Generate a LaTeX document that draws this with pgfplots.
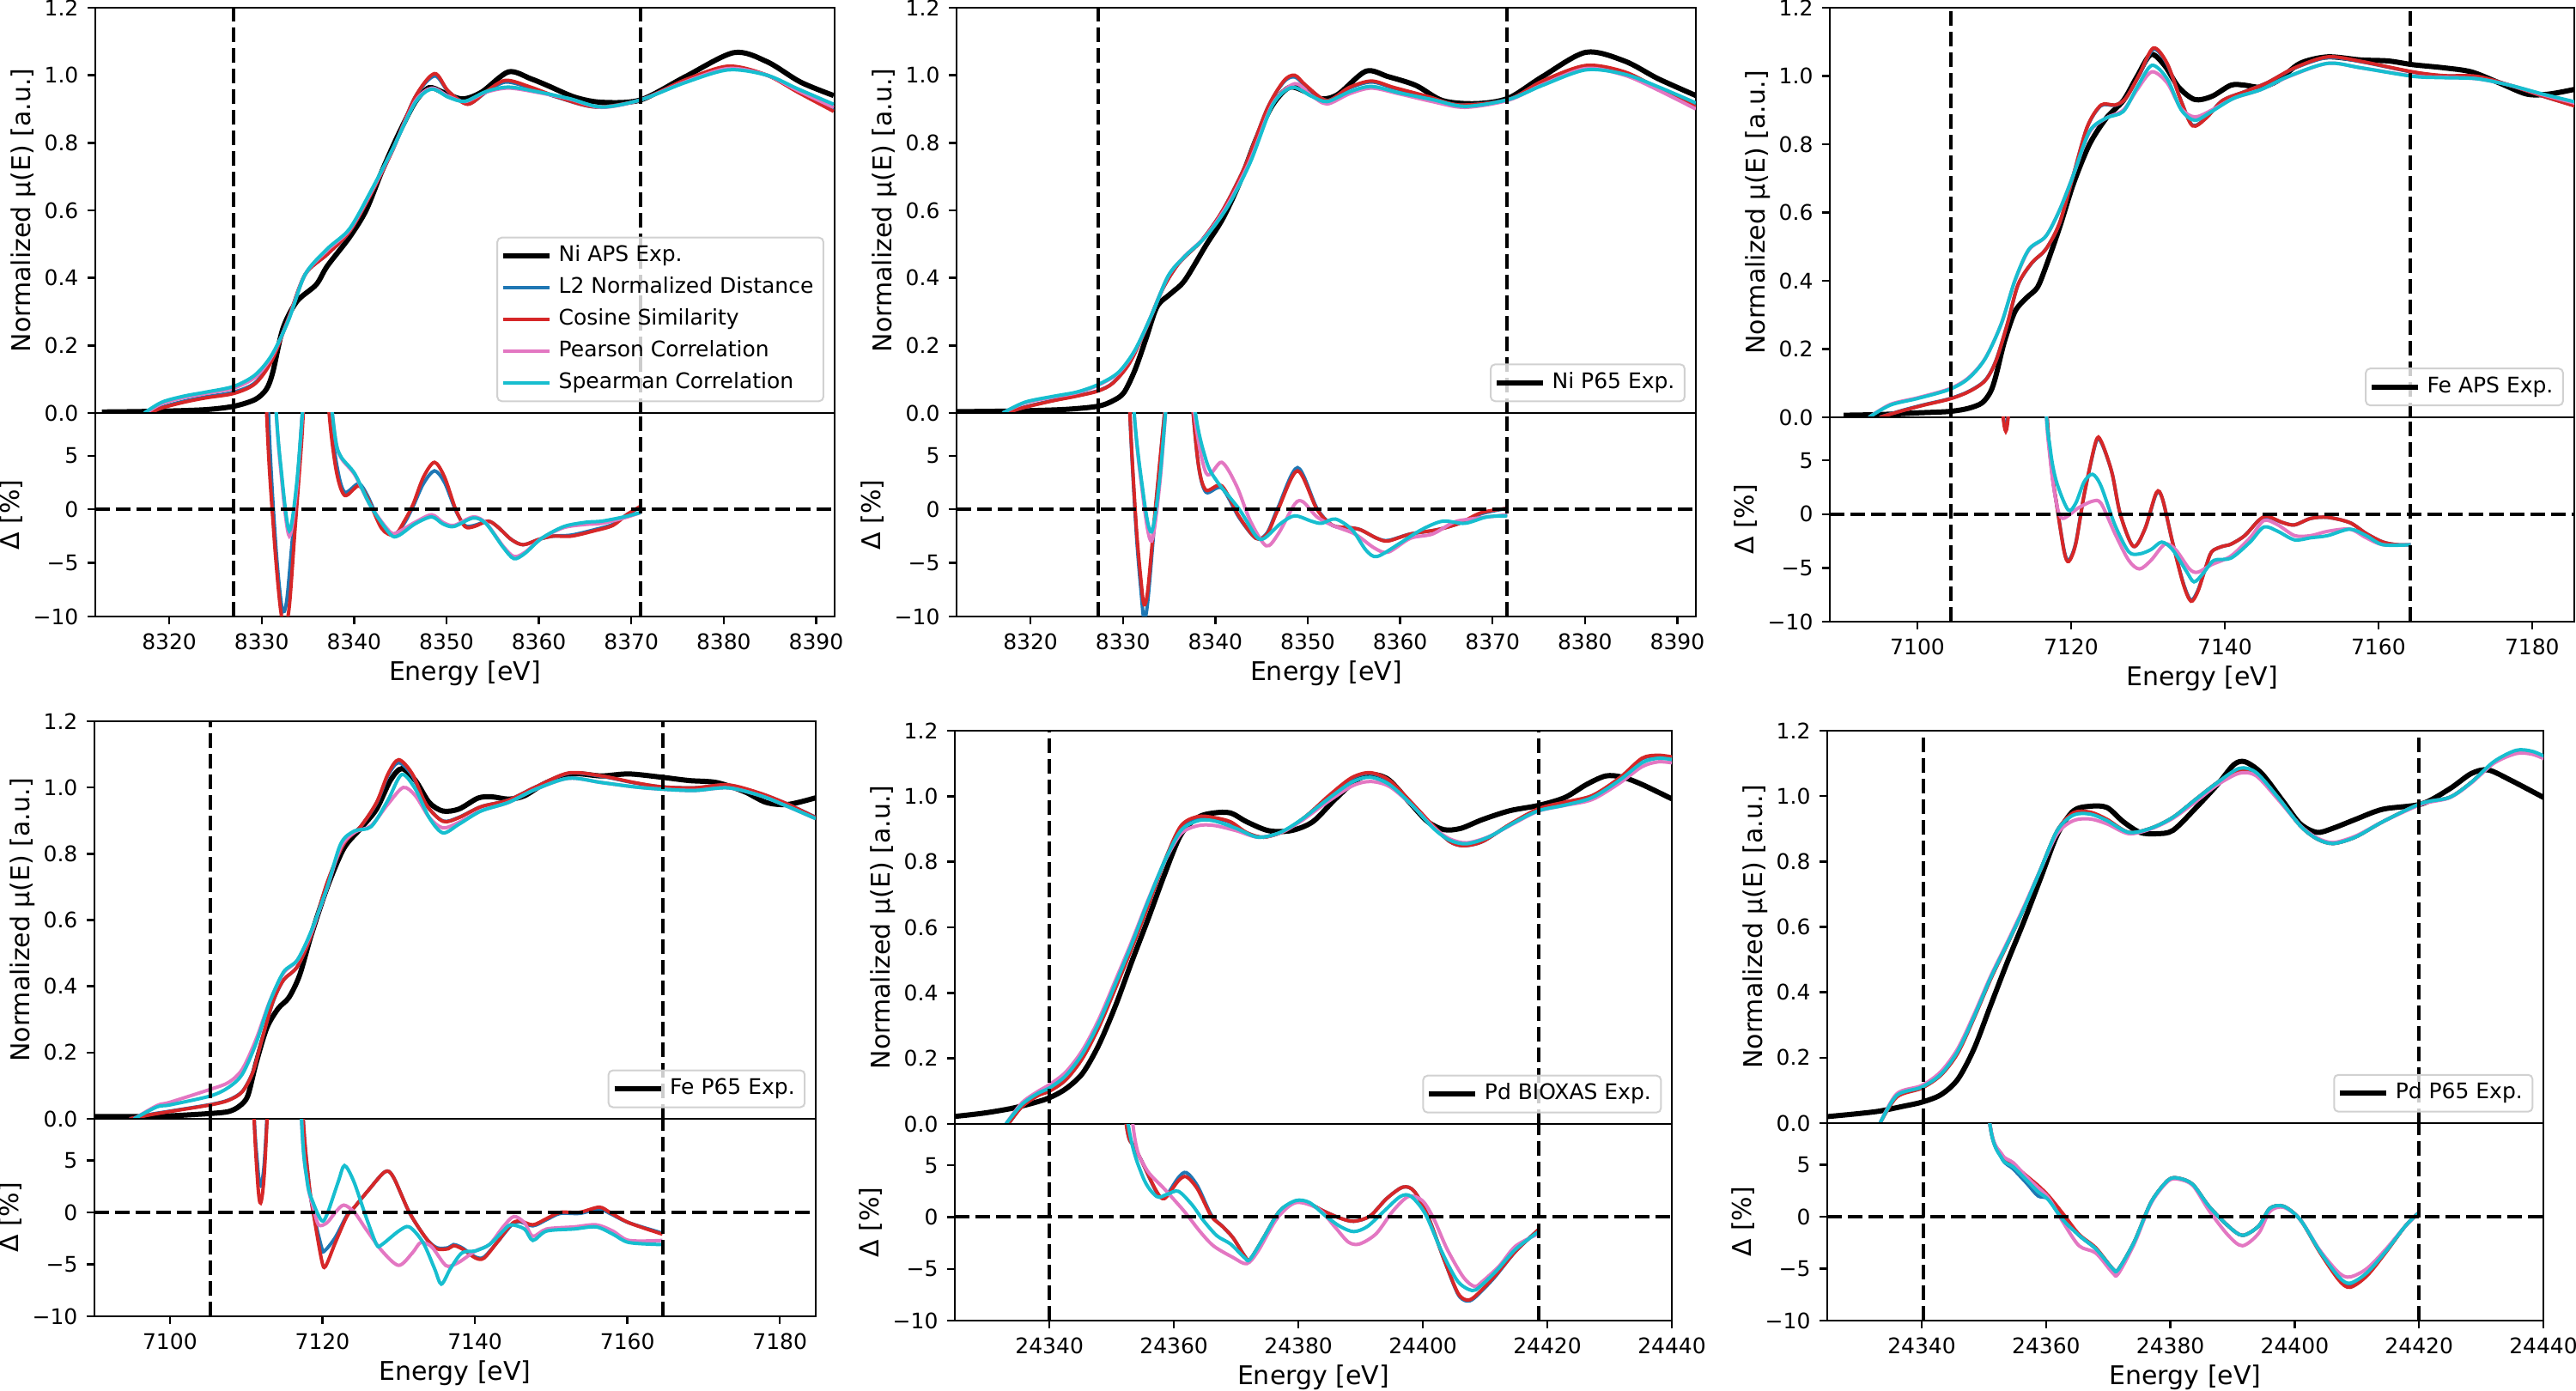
\documentclass[border=0pt]{standalone}
\usepackage{fontspec}
\setmainfont{DejaVu Sans}
\usepackage{pgfplots}
\pgfplotsset{compat=1.18}
\newlength\px
\setlength\px{0.333333pt}
\definecolor{tblue}{HTML}{1F77B4}
\definecolor{tred}{HTML}{D62728}
\definecolor{tpink}{HTML}{E377C2}
\definecolor{tcyan}{HTML}{17BECF}
\newcommand\tickfont{\fontsize{8.33pt}{10pt}\selectfont}
\newcommand\labfont{\fontsize{10pt}{12pt}\selectfont}
\pgfplotsset{legend image code/.code={\draw[#1] (0pt,0pt) -- (54\px,0pt);}}
\pgfplotsset{
  panel/.style={scale only axis, anchor=north west, axis line style={line width=2.4\px},
    tick style={line width=2.4\px, black}, major tick length=9\px, tick align=outside,
    xtick pos=left, ytick pos=left, ticklabel style={font=\tickfont},
    scaled x ticks=false, scaled y ticks=false,
    label style={font=\labfont}},
  mainp/.style={panel, ymin=0, ymax=1.2, ytick={0,0.2,0.4,0.6,0.8,1.0,1.2},
    yticklabels={0.0,0.2,0.4,0.6,0.8,1.0,1.2}, xtick=\empty,
    ylabel={Normalized μ(E) [a.u.]},
    every axis y label/.style={at={(axis description cs:0,0.5)}, xshift=-84\px, rotate=90, anchor=center, font=\labfont}},
  resp/.style={panel, ymin=-10, ymax=9, ytick={-10,-5,0,5}, yticklabels={−10,−5,0,5},
    ylabel={Δ [\%]}, xlabel={Energy [eV]},
    every axis y label/.style={at={(axis description cs:0,0.5)}, xshift=-98\px, rotate=90, anchor=center, font=\labfont},
    every axis x label/.style={at={(axis description cs:0.5,0)}, yshift=-66\px, anchor=center, font=\labfont}},
  expl/.style={black, line width=6\px, smooth},
  l2/.style={tblue, line width=4\px, smooth},
  cosl/.style={tred, line width=4\px, smooth},
  pear/.style={tpink, line width=4\px, smooth},
  spear/.style={tcyan, line width=4\px, smooth},
  vdash/.style={black, line width=4\px, dash pattern=on 17\px off 7\px, forget plot},
  legs/.style={legend style={at={(0.986,0.027)}, anchor=south east, draw=black!18, line width=2\px,
    rounded corners=5\px, fill=white, fill opacity=0.8, text opacity=1, font=\tickfont,
    inner xsep=4\px, inner ysep=3\px, row sep=0pt,
    nodes={inner ysep=2pt, inner xsep=2.5pt, text height=6.4pt, text depth=1.9pt}},
    legend cell align=left}
}
\begin{document}
\begin{tikzpicture}
\useasboundingbox (0,0) rectangle (3000\px,-1620\px);
%%%%%%%%%%%%%%%%%%%% PANEL 1 : Ni APS
\begin{axis}[mainp, legs, at={(111\px,-9\px)}, width=861\px, height=472\px, xmin=8312, xmax=8392]
\addplot[expl] coordinates {(8312.7,0.003)(8316,0.004)(8320,0.006)(8324,0.01)(8327,0.02)(8329.3,0.04)(8330.5,0.07)(8331.2,0.12)(8332.3,0.25)(8333.8,0.33)(8335.9,0.38)(8337.1,0.435)(8339.5,0.52)(8341.3,0.60)(8343,0.715)(8344.8,0.825)(8346.6,0.92)(8348.1,0.963)(8349.6,0.95)(8351.7,0.93)(8353.8,0.95)(8356.7,1.01)(8359.1,0.99)(8360.9,0.97)(8363.9,0.935)(8366.8,0.92)(8371,0.927)(8375.8,0.995)(8381.1,1.067)(8384.7,1.04)(8388.3,0.98)(8391.9,0.94)};
\addplot[l2] coordinates {(8317.9,0)(8319.2,0.017)(8321.6,0.035)(8324,0.048)(8327,0.062)(8329.3,0.09)(8331.1,0.158)(8332.9,0.28)(8334.7,0.41)(8337.1,0.47)(8339.5,0.537)(8341.8,0.648)(8344.2,0.78)(8346.6,0.935)(8348.7,0.998)(8350.2,0.952)(8352.3,0.915)(8354.3,0.95)(8356.4,0.98)(8359.1,0.962)(8362.1,0.934)(8366.2,0.906)(8371,0.927)(8375.8,0.985)(8380.5,1.025)(8384.7,1.0)(8388,0.952)(8391.9,0.896)};
\addplot[cosl] coordinates {(8317.9,0)(8319.2,0.015)(8321.6,0.032)(8324,0.045)(8327,0.058)(8329.3,0.087)(8331.1,0.155)(8332.9,0.28)(8334.7,0.41)(8337.1,0.47)(8339.5,0.537)(8341.8,0.647)(8344.2,0.78)(8346.6,0.935)(8348.7,1.005)(8350.2,0.953)(8352.3,0.914)(8354.3,0.952)(8356.4,0.985)(8359.1,0.965)(8362.1,0.935)(8366.2,0.906)(8371,0.927)(8375.8,0.986)(8380.5,1.027)(8384.7,1.0)(8388,0.95)(8391.9,0.893)};
\addplot[pear] coordinates {(8317.5,0)(8319.2,0.028)(8321.6,0.046)(8324,0.058)(8327,0.074)(8329.3,0.106)(8331.1,0.168)(8332.9,0.276)(8334.7,0.41)(8337.1,0.482)(8339.5,0.542)(8341.8,0.652)(8344.2,0.782)(8346.6,0.922)(8348.4,0.962)(8350.2,0.938)(8352,0.922)(8354.3,0.95)(8356.7,0.962)(8359.7,0.95)(8363.3,0.93)(8366.8,0.905)(8371,0.927)(8375.8,0.98)(8380.5,1.02)(8384.7,1.0)(8388,0.955)(8391.9,0.905)};
\addplot[spear] coordinates {(8317.3,0)(8319.2,0.032)(8321.6,0.05)(8324,0.062)(8327,0.079)(8329.3,0.113)(8331.1,0.172)(8332.9,0.274)(8334.7,0.41)(8337.1,0.486)(8339.5,0.545)(8341.8,0.656)(8344.2,0.783)(8346.6,0.918)(8348.4,0.959)(8350.2,0.935)(8352,0.923)(8354.3,0.952)(8356.7,0.965)(8359.7,0.952)(8363.3,0.931)(8366.8,0.906)(8371,0.927)(8375.8,0.978)(8380.5,1.016)(8384.7,1.0)(8388,0.96)(8391.9,0.914)};
\addplot[vdash] coordinates {(8327,0)(8327,1.2)};
\addplot[vdash] coordinates {(8371,0)(8371,1.2)};
\legend{Ni APS Exp., L2 Normalized Distance, Cosine Similarity, Pearson Correlation, Spearman Correlation}
\end{axis}
\begin{axis}[resp, at={(111\px,-481\px)}, width=861\px, height=237\px, xmin=8312, xmax=8392,
  xtick={8320,8330,8340,8350,8360,8370,8380,8390}, xticklabels={8320,8330,8340,8350,8360,8370,8380,8390}]
\addplot[l2] coordinates {(8329.8,40)(8330.7,10)(8331.5,-3)(8332.2,-9.2)(8332.7,-8.6)(8333.3,-3)(8334.0,4)(8334.7,12)(8336.2,22)(8337.4,9)(8338.2,3.8)(8339.0,1.6)(8340.5,2.4)(8341.5,1.2)(8343.0,-1.6)(8344.4,-2.3)(8345.5,-1.2)(8346.4,0.3)(8347.5,2.4)(8348.7,3.6)(8349.8,2.5)(8351.0,-0.1)(8352.0,-1.5)(8353.0,-1.5)(8354.5,-1.1)(8355.5,-1.6)(8357.0,-2.8)(8358.3,-3.3)(8360.0,-2.8)(8361.5,-2.5)(8363.5,-2.4)(8366.0,-1.9)(8368.0,-1.4)(8369.5,-0.5)(8371.0,0.2)};
\addplot[cosl] coordinates {(8329.6,40)(8330.5,10)(8331.3,-2)(8332.0,-9)(8332.5,-11)(8333.0,-9)(8333.6,-2)(8334.3,6)(8334.9,14)(8336.2,22)(8337.3,9)(8338.1,3.5)(8339.0,1.3)(8340.5,2.2)(8341.5,1.0)(8343.0,-1.8)(8344.4,-2.4)(8345.5,-1.0)(8346.4,0.5)(8347.5,3.0)(8348.7,4.4)(8349.8,3.0)(8351.0,0.0)(8352.0,-1.6)(8353.0,-1.6)(8354.5,-1.1)(8355.5,-1.6)(8357.0,-2.8)(8358.3,-3.3)(8360.0,-2.8)(8361.5,-2.5)(8363.5,-2.5)(8366.0,-2.0)(8368.0,-1.5)(8369.5,-0.5)(8371.0,0.3)};
\addplot[pear] coordinates {(8330.3,40)(8331.4,12)(8332.2,2.5)(8333.0,-2.5)(8333.8,2)(8334.6,11)(8336.0,25)(8337.3,12)(8338.0,6.5)(8338.6,4.8)(8340.1,3.2)(8341.8,0.3)(8343.9,-2.1)(8344.8,-2.1)(8346.6,-1.2)(8348.4,-0.5)(8349.6,-1.2)(8350.8,-1.5)(8352.9,-0.7)(8354.3,-1.3)(8356.1,-3.4)(8357.3,-4.4)(8358.5,-4.0)(8360.3,-2.7)(8362.7,-1.7)(8365.1,-1.4)(8366.8,-1.3)(8369.2,-0.8)(8371,-0.3)};
\addplot[spear] coordinates {(8330.3,40)(8331.4,12)(8332.2,3)(8333.0,-2.0)(8333.8,2.5)(8334.6,11)(8336.0,25)(8337.3,12)(8338.0,6.5)(8338.6,4.9)(8340.1,3.3)(8341.8,0.3)(8343.9,-2.3)(8344.8,-2.45)(8346.6,-1.35)(8348.4,-0.7)(8349.6,-1.35)(8350.8,-1.6)(8352.9,-0.8)(8354.3,-1.35)(8356.1,-3.5)(8357.3,-4.6)(8358.5,-4.1)(8360.3,-2.7)(8362.7,-1.6)(8365.1,-1.2)(8366.8,-1.1)(8369.2,-0.7)(8371,-0.3)};
\addplot[vdash] coordinates {(8312,0)(8392,0)};
\addplot[vdash] coordinates {(8327,-10)(8327,9)};
\addplot[vdash] coordinates {(8371,-10)(8371,9)};
\end{axis}
%%%%%%%%%%%%%%%%%%%% PANEL 2 : Ni P65
\begin{axis}[mainp, legs, at={(1114\px,-9\px)}, width=861\px, height=472\px, xmin=8312, xmax=8392]
\addplot[expl] coordinates {(8312,0.004)(8316,0.005)(8320,0.007)(8324,0.011)(8327.3,0.02)(8328.9,0.036)(8330.1,0.06)(8331.3,0.127)(8332.5,0.22)(8333.7,0.315)(8335.2,0.354)(8336.7,0.393)(8339,0.497)(8340.8,0.575)(8342.6,0.68)(8344.4,0.81)(8346.2,0.912)(8348,0.964)(8349.8,0.951)(8351.5,0.93)(8353.3,0.944)(8356.3,1.012)(8358.7,0.996)(8361.7,0.97)(8364.6,0.925)(8368.2,0.916)(8371.7,0.932)(8375.4,0.996)(8380.1,1.068)(8384.3,1.042)(8387.9,0.99)(8392,0.94)};
\addplot[l2] coordinates {(8317.3,0)(8319.4,0.018)(8322.4,0.037)(8325,0.051)(8327.3,0.066)(8328.9,0.089)(8330.7,0.148)(8332.5,0.25)(8334.3,0.367)(8336.1,0.445)(8338.5,0.51)(8340.8,0.60)(8343.2,0.73)(8345.6,0.90)(8347.4,0.98)(8348.6,0.995)(8349.8,0.968)(8352.1,0.925)(8354.5,0.962)(8356.9,0.98)(8359.3,0.962)(8362.9,0.937)(8366.4,0.912)(8371.7,0.928)(8375.4,0.982)(8380.1,1.027)(8384.3,1.008)(8388,0.96)(8392,0.908)};
\addplot[cosl] coordinates {(8317.3,0)(8319.4,0.017)(8322.4,0.036)(8325,0.05)(8327.3,0.065)(8328.9,0.088)(8330.7,0.147)(8332.5,0.25)(8334.3,0.367)(8336.1,0.445)(8338.5,0.51)(8340.8,0.60)(8343.2,0.73)(8345.6,0.90)(8347.4,0.983)(8348.6,1.0)(8349.8,0.97)(8352.1,0.925)(8354.5,0.964)(8356.9,0.983)(8359.3,0.964)(8362.9,0.938)(8366.4,0.912)(8371.7,0.928)(8375.4,0.983)(8380.1,1.029)(8384.3,1.01)(8388,0.96)(8392,0.906)};
\addplot[pear] coordinates {(8317,0)(8319.4,0.03)(8322.4,0.047)(8325,0.06)(8327.3,0.082)(8329.5,0.118)(8331.3,0.184)(8333.1,0.29)(8334.9,0.405)(8336.7,0.465)(8339,0.525)(8341.4,0.62)(8343.8,0.75)(8346.2,0.915)(8348.6,0.975)(8350.4,0.94)(8352.1,0.915)(8354.5,0.945)(8356.9,0.962)(8359.9,0.945)(8363.5,0.922)(8367,0.905)(8371.7,0.926)(8375.4,0.972)(8380.1,1.02)(8384.3,1.0)(8388,0.955)(8392,0.90)};
\addplot[spear] coordinates {(8317,0)(8319.4,0.032)(8322.4,0.049)(8325,0.062)(8327.3,0.084)(8329.5,0.12)(8331.3,0.186)(8333.1,0.29)(8334.9,0.406)(8336.7,0.464)(8339,0.523)(8341.4,0.614)(8343.8,0.743)(8346.2,0.912)(8348.3,0.964)(8350.4,0.938)(8352.1,0.922)(8354.5,0.951)(8356.9,0.967)(8359.9,0.948)(8363.5,0.928)(8367,0.908)(8371.7,0.928)(8375.4,0.97)(8380.1,1.016)(8384.3,1.003)(8388,0.965)(8392,0.918)};
\addplot[vdash] coordinates {(8327.3,0)(8327.3,1.2)};
\addplot[vdash] coordinates {(8371.6,0)(8371.6,1.2)};
\legend{Ni P65 Exp.}
\end{axis}
\begin{axis}[resp, at={(1114\px,-481\px)}, width=861\px, height=237\px, xmin=8312, xmax=8392,
  xtick={8320,8330,8340,8350,8360,8370,8380,8390}, xticklabels={8320,8330,8340,8350,8360,8370,8380,8390}]
\addplot[l2] coordinates {(8329.5,40)(8330.6,12)(8331.4,-1.5)(8332.0,-8)(8332.3,-10.3)(8332.7,-8.5)(8333.5,-0.5)(8334.4,8)(8335.2,15)(8336.4,22)(8337.5,10)(8338.2,4)(8339,1.6)(8340.7,2.0)(8342.6,-0.8)(8344.4,-2.7)(8345.6,-2.2)(8346.8,0.2)(8348.9,3.9)(8351,0.1)(8352.7,-1.5)(8354.5,-1.7)(8355.7,-1.9)(8357.5,-2.7)(8358.7,-2.9)(8361.1,-2.3)(8364,-1.9)(8366.4,-1.3)(8368.8,-0.4)(8371.6,0.1)};
\addplot[cosl] coordinates {(8329.5,40)(8330.6,12)(8331.4,-1)(8332.0,-7)(8332.3,-8.9)(8332.7,-7.5)(8333.5,0)(8334.4,8)(8335.2,15)(8336.4,22)(8337.5,10)(8338.2,4)(8339,1.8)(8340.7,2.2)(8342.6,-0.7)(8344.4,-2.7)(8345.6,-2.3)(8346.8,0)(8348.9,3.6)(8351,0)(8352.7,-1.5)(8354.5,-1.7)(8355.7,-1.9)(8357.5,-2.7)(8358.7,-2.95)(8361.1,-2.3)(8364,-1.9)(8366.4,-1.3)(8368.8,-0.3)(8371.6,0.1)};
\addplot[pear] coordinates {(8330,40)(8331,12)(8332.2,1)(8333.1,-2.95)(8334,2.5)(8334.9,12)(8336.3,25)(8337.6,10)(8339,3.4)(8340.7,4.4)(8342.3,2.2)(8343.8,-1.1)(8345.5,-3.4)(8346.8,-2.3)(8348.6,0.5)(8349.5,0.7)(8351,-0.7)(8352.7,-1.5)(8355.1,-2.3)(8357.2,-3.6)(8358.7,-4.0)(8361.1,-2.7)(8363.5,-2.3)(8365.8,-1.2)(8367.6,-0.9)(8371.6,-0.5)};
\addplot[spear] coordinates {(8330,40)(8331,12)(8332.2,1.5)(8333.1,-2.1)(8334,3)(8334.9,12)(8336.3,25)(8337.7,10)(8339,4.6)(8340.2,2.6)(8342.6,0)(8344.4,-2.5)(8345.3,-2.7)(8347.1,-1.3)(8348.6,-0.6)(8350.4,-1.1)(8351.5,-1.3)(8353,-0.9)(8354.8,-1.9)(8356.3,-3.8)(8357.5,-4.4)(8359.9,-3.2)(8362.3,-1.9)(8364.6,-1.1)(8367,-1.3)(8369.4,-0.7)(8371.6,-0.6)};
\addplot[vdash] coordinates {(8312,0)(8392,0)};
\addplot[vdash] coordinates {(8327.3,-10)(8327.3,9)};
\addplot[vdash] coordinates {(8371.6,-10)(8371.6,9)};
\end{axis}
%%%%%%%%%%%%%%%%%%%% PANEL 3 : Fe APS
\begin{axis}[mainp, legs, at={(2131\px,-9\px)}, width=867\px, height=477\px, xmin=7088.6, xmax=7185.5]
\addplot[expl] coordinates {(7090.4,0.006)(7095.1,0.008)(7100,0.013)(7104.1,0.017)(7106.6,0.026)(7108.4,0.042)(7109.5,0.074)(7110.2,0.12)(7111.3,0.22)(7112.7,0.31)(7114.2,0.35)(7115.6,0.38)(7116.7,0.44)(7118.5,0.556)(7120.3,0.684)(7122.4,0.80)(7124.6,0.877)(7126.8,0.928)(7128.6,0.999)(7130.4,1.063)(7132.2,1.03)(7134,0.967)(7136.1,0.931)(7138.3,0.94)(7140.8,0.973)(7142.6,0.973)(7144.7,0.967)(7146.9,0.986)(7149.8,1.037)(7153.4,1.056)(7157.7,1.047)(7161.3,1.044)(7164.5,1.033)(7168.5,1.024)(7172.1,1.012)(7175.7,0.98)(7179.3,0.947)(7182.2,0.947)(7186,0.963)};
\addplot[l2] coordinates {(7095.1,0)(7098,0.02)(7100.9,0.037)(7104.1,0.054)(7106.6,0.075)(7108.8,0.108)(7110.2,0.165)(7111.7,0.273)(7113.1,0.388)(7114.9,0.452)(7116.7,0.492)(7118.5,0.569)(7120.3,0.71)(7122.1,0.85)(7123.9,0.913)(7125.7,0.914)(7127.1,0.934)(7128.9,1.003)(7130.7,1.078)(7132.5,1.035)(7134.3,0.928)(7135.8,0.856)(7137.6,0.878)(7139.7,0.928)(7142.6,0.954)(7145.5,0.98)(7149.1,1.023)(7153.4,1.054)(7157.7,1.042)(7164.5,1.011)(7168.5,1.0)(7172.8,0.998)(7177.1,0.973)(7181.4,0.941)(7186,0.91)};
\addplot[cosl] coordinates {(7095.1,0)(7098,0.019)(7100.9,0.036)(7104.1,0.053)(7106.6,0.074)(7108.8,0.107)(7110.2,0.164)(7111.7,0.273)(7113.1,0.389)(7114.9,0.453)(7116.7,0.492)(7118.5,0.569)(7120.3,0.71)(7122.1,0.851)(7123.9,0.915)(7125.7,0.915)(7127.1,0.934)(7128.9,1.005)(7130.7,1.082)(7132.5,1.037)(7134.3,0.928)(7135.8,0.854)(7137.6,0.877)(7139.7,0.928)(7142.6,0.954)(7145.5,0.98)(7149.1,1.024)(7153.4,1.056)(7157.7,1.043)(7164.5,1.012)(7168.5,1.001)(7172.8,0.999)(7177.1,0.973)(7181.4,0.941)(7186,0.909)};
\addplot[pear] coordinates {(7093.7,0)(7096.5,0.038)(7100,0.057)(7104.1,0.083)(7106.6,0.115)(7108.8,0.172)(7110.9,0.273)(7112.7,0.4)(7114.5,0.49)(7116.7,0.53)(7118.5,0.607)(7120.3,0.71)(7122.4,0.835)(7124.6,0.877)(7126.8,0.9)(7128.6,0.96)(7130.5,1.012)(7132.5,0.98)(7134.3,0.905)(7136.1,0.88)(7138.3,0.9)(7141.2,0.935)(7144.7,0.96)(7148.3,0.998)(7153.4,1.037)(7157.7,1.024)(7164.5,1.0)(7168.5,0.996)(7172.8,0.992)(7177.1,0.973)(7181.4,0.945)(7186,0.918)};
\addplot[spear] coordinates {(7093.7,0)(7096.5,0.036)(7100,0.055)(7104.1,0.081)(7106.6,0.113)(7108.8,0.171)(7110.9,0.273)(7112.7,0.402)(7114.5,0.492)(7116.7,0.53)(7118.5,0.607)(7120.3,0.71)(7122.4,0.838)(7124.6,0.877)(7126.8,0.896)(7128.6,0.967)(7130.5,1.031)(7132.5,0.992)(7134.3,0.902)(7136.1,0.87)(7138.3,0.896)(7141.2,0.935)(7144.7,0.96)(7148.3,0.999)(7153.4,1.037)(7157.7,1.024)(7164.5,0.999)(7168.5,0.995)(7172.8,0.992)(7177.1,0.973)(7181.4,0.947)(7186,0.922)};
\addplot[vdash] coordinates {(7104.3,0)(7104.3,1.2)};
\addplot[vdash] coordinates {(7164.2,0)(7164.2,1.2)};
\legend{Fe APS Exp.}
\end{axis}
\begin{axis}[resp, at={(2131\px,-486\px)}, width=867\px, height=238\px, xmin=7088.6, xmax=7185.5,
  xtick={7100,7120,7140,7160,7180}, xticklabels={7100,7120,7140,7160,7180}]
\addplot[l2] coordinates {(7109.5,40)(7110.6,15)(7111.5,8.0)(7112.3,15)(7113.5,40)(7115.5,30)(7116.8,10)(7117.5,4)(7118.1,1.0)(7119.1,-3.4)(7119.7,-4.3)(7120.6,-2.7)(7121.7,1.8)(7123.2,6.6)(7123.9,6.7)(7125.3,3.9)(7126.4,0)(7128.1,-3.0)(7129.6,-1.4)(7131.1,1.9)(7131.9,1.4)(7133.2,-2.6)(7134.6,-6.4)(7135.6,-8.0)(7136.5,-7.1)(7137.5,-5.0)(7138.3,-3.5)(7139.7,-3.0)(7140.8,-2.8)(7142.6,-2.0)(7144.4,-0.6)(7145.5,-0.3)(7147.6,-0.8)(7149.1,-1.0)(7151.2,-0.4)(7153.4,-0.3)(7156.3,-0.8)(7158.4,-1.8)(7160.6,-2.6)(7162.5,-2.85)(7164.2,-2.85)};
\addplot[cosl] coordinates {(7109.5,40)(7110.6,15)(7111.5,7.7)(7112.3,15)(7113.5,40)(7115.5,30)(7116.8,10)(7117.5,4)(7118.1,1.0)(7119.1,-3.5)(7119.7,-4.4)(7120.6,-2.8)(7121.7,1.8)(7123.2,6.7)(7123.9,6.8)(7125.3,3.9)(7126.4,0)(7128.1,-3.0)(7129.6,-1.4)(7131.1,2.0)(7131.9,1.4)(7133.2,-2.6)(7134.6,-6.5)(7135.6,-8.1)(7136.5,-7.2)(7137.5,-5.0)(7138.3,-3.5)(7139.7,-3.0)(7140.8,-2.8)(7142.6,-2.0)(7144.4,-0.6)(7145.5,-0.2)(7147.6,-0.8)(7149.1,-1.0)(7151.2,-0.4)(7153.4,-0.3)(7156.3,-0.8)(7158.4,-1.8)(7160.6,-2.6)(7162.5,-2.85)(7164.2,-2.85)};
\addplot[pear] coordinates {(7115.5,40)(7116.6,12)(7117.3,5)(7118.1,1.0)(7118.9,-0.4)(7121,0.6)(7122.8,1.2)(7123.9,1.0)(7125.7,-1.8)(7127.5,-4.3)(7128.9,-5.1)(7130.4,-4.3)(7132.2,-2.8)(7133.6,-3.3)(7135.4,-5.1)(7136.5,-5.4)(7138.3,-4.7)(7140.8,-3.9)(7143.3,-2.2)(7145.1,-0.6)(7146.9,-1.0)(7149.1,-2.0)(7151.2,-2.0)(7153.4,-1.6)(7156.3,-1.4)(7158.4,-2.2)(7160.6,-2.85)(7164.2,-2.85)};
\addplot[spear] coordinates {(7115.5,40)(7116.6,12)(7117.3,6)(7118.1,3.0)(7119.6,0.4)(7120.6,1.0)(7121.7,3.0)(7122.8,3.7)(7123.9,2.6)(7125.7,-1.0)(7127.5,-3.5)(7128.9,-3.7)(7130.4,-3.3)(7131.8,-2.6)(7133.2,-3.3)(7135,-5.3)(7136,-6.3)(7137.2,-5.5)(7138.6,-4.3)(7140.8,-4.1)(7143.3,-2.6)(7145.1,-1.2)(7146.9,-1.6)(7149.1,-2.4)(7151.2,-2.2)(7153.4,-2.0)(7156.3,-1.4)(7158.4,-2.0)(7160.6,-2.85)(7164.2,-2.85)};
\addplot[vdash] coordinates {(7088.6,0)(7185.5,0)};
\addplot[vdash] coordinates {(7104.3,-10)(7104.3,9)};
\addplot[vdash] coordinates {(7164.2,-10)(7164.2,9)};
\end{axis}
%%%%%%%%%%%%%%%%%%%% PANEL 4 : Fe P65
\begin{axis}[mainp, legs, at={(110\px,-840\px)}, width=840\px, height=463\px, xmin=7090.1, xmax=7184.7]
\addplot[expl] coordinates {(7090,0.007)(7095.5,0.007)(7100,0.009)(7105.3,0.016)(7107.7,0.022)(7109.1,0.038)(7110.2,0.069)(7111.3,0.168)(7112.7,0.274)(7114.2,0.333)(7115.6,0.366)(7117,0.433)(7118.5,0.552)(7120.6,0.697)(7122.8,0.816)(7125,0.876)(7127.1,0.935)(7128.9,1.021)(7130.4,1.057)(7132.2,1.021)(7134,0.955)(7135.8,0.929)(7137.9,0.935)(7140.4,0.968)(7142.2,0.972)(7144.4,0.965)(7146.5,0.975)(7149.4,1.015)(7153,1.041)(7156.6,1.035)(7160.2,1.041)(7164.5,1.031)(7168.1,1.021)(7171.7,1.015)(7175.3,0.988)(7178.2,0.955)(7181.1,0.949)(7184.7,0.969)};
\addplot[l2] coordinates {(7094.7,0)(7097.6,0.014)(7100,0.023)(7105.3,0.043)(7107.7,0.057)(7109.5,0.083)(7110.9,0.143)(7112,0.234)(7113.5,0.352)(7114.9,0.419)(7116.7,0.459)(7118.5,0.552)(7120.6,0.71)(7122.8,0.83)(7125,0.882)(7127.1,0.953)(7128.6,1.036)(7130,1.075)(7131.8,1.036)(7133.6,0.948)(7135.8,0.899)(7137.9,0.91)(7140.8,0.942)(7144.4,0.962)(7148,1.002)(7152.3,1.043)(7156.6,1.034)(7160.9,1.014)(7164.5,1.002)(7168.8,0.999)(7173.2,1.007)(7177.5,0.981)(7181.1,0.949)(7184.7,0.91)};
\addplot[cosl] coordinates {(7094.7,0)(7097.6,0.013)(7100,0.022)(7105.3,0.042)(7107.7,0.056)(7109.5,0.082)(7110.9,0.142)(7112,0.234)(7113.5,0.353)(7114.9,0.419)(7116.7,0.459)(7118.5,0.552)(7120.6,0.711)(7122.8,0.83)(7125,0.882)(7127.1,0.955)(7128.6,1.041)(7130,1.084)(7131.8,1.041)(7133.6,0.949)(7135.8,0.898)(7137.9,0.909)(7140.8,0.942)(7144.4,0.962)(7148,1.002)(7152.3,1.044)(7156.6,1.035)(7160.9,1.015)(7164.5,1.002)(7168.8,0.999)(7173.2,1.008)(7177.5,0.982)(7181.1,0.949)(7184.7,0.909)};
\addplot[pear] coordinates {(7095.3,0)(7098.3,0.04)(7100,0.05)(7105.3,0.089)(7107.7,0.11)(7109.5,0.15)(7111.3,0.24)(7113.1,0.355)(7114.9,0.44)(7116.7,0.478)(7118.5,0.56)(7120.6,0.695)(7122.4,0.82)(7124.2,0.865)(7126.4,0.885)(7128.6,0.95)(7130.6,1.0)(7132.2,0.975)(7134,0.91)(7135.8,0.878)(7137.9,0.895)(7140.8,0.93)(7144.4,0.955)(7148,0.995)(7152.3,1.028)(7156.6,1.015)(7160.9,1.002)(7164.5,0.995)(7168.8,0.991)(7173.2,0.999)(7177.5,0.975)(7181.1,0.942)(7184.7,0.906)};
\addplot[spear] coordinates {(7095.3,0)(7098.3,0.036)(7100,0.042)(7105.3,0.069)(7107.7,0.095)(7109.5,0.135)(7111.3,0.228)(7113.1,0.353)(7114.9,0.443)(7116.7,0.479)(7118.5,0.565)(7120.6,0.697)(7122.4,0.83)(7124.2,0.869)(7126.4,0.882)(7128.6,0.962)(7130.4,1.039)(7132.2,0.995)(7134,0.909)(7135.8,0.863)(7137.9,0.889)(7140.8,0.929)(7144.4,0.955)(7148,0.995)(7152.3,1.028)(7156.6,1.015)(7160.9,1.002)(7164.5,0.995)(7168.8,0.991)(7173.2,0.999)(7177.5,0.975)(7181.1,0.942)(7184.7,0.906)};
\addplot[vdash] coordinates {(7105.3,0)(7105.3,1.2)};
\addplot[vdash] coordinates {(7164.6,0)(7164.6,1.2)};
\legend{Fe P65 Exp.}
\end{axis}
\begin{axis}[resp, at={(110\px,-1303\px)}, width=840\px, height=230\px, xmin=7090.1, xmax=7184.7,
  xtick={7100,7120,7140,7160,7180}, xticklabels={7100,7120,7140,7160,7180}]
\addplot[l2] coordinates {(7110.0,40)(7110.9,12)(7111.5,4.5)(7111.9,2.6)(7112.4,5)(7113.1,15)(7114.5,40)(7116.3,30)(7117.4,10)(7118.2,3)(7118.8,0)(7119.9,-3.4)(7120.3,-3.7)(7121.7,-2.4)(7123.2,-0.3)(7124.2,0.5)(7126,2.1)(7128.2,3.9)(7129.3,3.4)(7131.4,0)(7133.6,-2.5)(7135,-3.4)(7136.5,-3.4)(7137.2,-3.1)(7138.3,-3.4)(7140.1,-4.3)(7141.2,-4.3)(7142.9,-2.9)(7144.7,-1.3)(7145.8,-0.9)(7147.6,-1.3)(7149.4,-0.7)(7151.2,-0.1)(7153.7,-0.1)(7156.3,0.3)(7157.7,-0.1)(7160.2,-1.0)(7164.6,-2.0)};
\addplot[cosl] coordinates {(7110.0,40)(7110.9,12)(7111.5,3)(7111.9,0.9)(7112.4,4)(7113.1,15)(7114.5,40)(7116.3,30)(7117.4,10)(7118.2,3)(7118.8,0)(7119.9,-4.6)(7120.4,-5.2)(7121.7,-2.9)(7123.2,-0.4)(7124.2,0.5)(7126,2.1)(7128.2,3.9)(7129.3,3.4)(7131.4,0)(7133.6,-2.5)(7135,-3.5)(7136.5,-3.5)(7137.2,-3.2)(7138.3,-3.5)(7140.1,-4.4)(7141.2,-4.4)(7142.9,-2.9)(7144.7,-1.2)(7145.8,-0.8)(7147.6,-1.2)(7149.4,-0.6)(7151.2,0)(7153.7,0)(7156.3,0.5)(7157.7,0)(7160.2,-1.0)(7164.6,-2.1)};
\addplot[pear] coordinates {(7116.0,40)(7117.2,10)(7118.0,3)(7118.8,0.5)(7119.5,-1.2)(7120.6,-1.0)(7121.7,0)(7122.8,0.7)(7124.2,0)(7125.7,-1.6)(7127.8,-3.7)(7130,-5.1)(7131.8,-3.9)(7132.9,-2.9)(7134.3,-3.3)(7135.8,-4.8)(7136.5,-5.2)(7137.9,-4.8)(7140.1,-3.7)(7141.9,-3.1)(7143.7,-1.4)(7145.1,-0.4)(7146.5,-1.0)(7147.6,-2.3)(7149.4,-1.6)(7153,-1.4)(7155.9,-1.2)(7158.1,-1.8)(7160.2,-2.7)(7164.6,-2.7)};
\addplot[spear] coordinates {(7116.0,40)(7117.2,10)(7118.0,3)(7118.8,0.9)(7119.9,-0.8)(7120.6,-0.2)(7122.1,3.0)(7122.9,4.5)(7124.1,3.0)(7125.7,-0.4)(7127.1,-3.1)(7127.8,-3.1)(7130,-1.8)(7131.4,-1.4)(7133.2,-2.9)(7134.7,-5.4)(7135.6,-6.9)(7136.8,-5.4)(7138.3,-3.9)(7140.1,-3.7)(7141.9,-3.1)(7143.7,-1.8)(7144.7,-1.2)(7146.5,-1.6)(7147.6,-2.7)(7149.4,-1.8)(7153,-1.6)(7155.9,-1.4)(7158.1,-2.1)(7160.2,-2.9)(7164.6,-3.1)};
\addplot[vdash] coordinates {(7090.1,0)(7184.7,0)};
\addplot[vdash] coordinates {(7105.3,-10)(7105.3,9)};
\addplot[vdash] coordinates {(7164.6,-10)(7164.6,9)};
\end{axis}
%%%%%%%%%%%%%%%%%%%% PANEL 5 : Pd BIOXAS
\begin{axis}[mainp, legs, at={(1112\px,-851\px)}, width=835\px, height=458\px, xmin=24324.8, xmax=24440]
\addplot[expl] coordinates {(24324.8,0.023)(24329.4,0.033)(24333.8,0.047)(24337.4,0.064)(24340,0.08)(24342.6,0.107)(24345.3,0.154)(24347.9,0.24)(24350.6,0.36)(24353.2,0.494)(24355.9,0.628)(24358.5,0.762)(24361.1,0.882)(24363.8,0.935)(24366.4,0.949)(24369.1,0.949)(24371.7,0.922)(24375.2,0.895)(24378.8,0.895)(24382.3,0.922)(24385.8,0.989)(24389.3,1.049)(24392,1.066)(24394.6,1.049)(24398.1,0.976)(24400.8,0.922)(24403.4,0.898)(24406.1,0.902)(24409.6,0.929)(24414,0.956)(24418.6,0.972)(24422.8,0.996)(24426.3,1.036)(24429.4,1.062)(24432.1,1.058)(24435.2,1.036)(24440,0.992)};
\addplot[l2] coordinates {(24333.4,0)(24335.6,0.054)(24338.2,0.088)(24340,0.101)(24342.6,0.135)(24345.3,0.201)(24347.9,0.295)(24350.6,0.415)(24353.2,0.536)(24355.9,0.668)(24358.5,0.802)(24361.1,0.907)(24363.8,0.935)(24366.4,0.933)(24369.1,0.92)(24371.7,0.888)(24374.4,0.875)(24377.9,0.895)(24381.4,0.941)(24384.9,1.0)(24388.5,1.054)(24391.5,1.07)(24394.6,1.047)(24398.1,0.981)(24401.7,0.908)(24404.3,0.862)(24406.5,0.849)(24409.6,0.862)(24414,0.914)(24418.6,0.961)(24422.8,0.981)(24427.2,1.001)(24431.6,1.055)(24435.2,1.114)(24437.8,1.123)(24440,1.118)};
\addplot[cosl] coordinates {(24333.4,0)(24335.6,0.053)(24338.2,0.087)(24340,0.1)(24342.6,0.134)(24345.3,0.2)(24347.9,0.294)(24350.6,0.414)(24353.2,0.535)(24355.9,0.668)(24358.5,0.802)(24361.1,0.909)(24363.8,0.938)(24366.4,0.935)(24369.1,0.922)(24371.7,0.889)(24374.4,0.875)(24377.9,0.895)(24381.4,0.942)(24384.9,1.002)(24388.5,1.056)(24391.5,1.072)(24394.6,1.049)(24398.1,0.982)(24401.7,0.909)(24404.3,0.862)(24406.5,0.849)(24409.6,0.862)(24414,0.915)(24418.6,0.962)(24422.8,0.982)(24427.2,1.002)(24431.6,1.056)(24435.2,1.116)(24437.8,1.125)(24440,1.12)};
\addplot[pear] coordinates {(24333,0)(24335.6,0.065)(24338.2,0.1)(24340,0.12)(24342.6,0.158)(24345.3,0.225)(24347.9,0.318)(24350.6,0.438)(24353.2,0.556)(24355.9,0.686)(24358.5,0.8)(24361.1,0.885)(24363.8,0.91)(24366.4,0.911)(24370,0.895)(24373.5,0.875)(24377,0.888)(24380.5,0.925)(24384.1,0.975)(24388.5,1.03)(24391.5,1.045)(24394.6,1.03)(24398.1,0.975)(24401.7,0.905)(24404.3,0.87)(24407,0.858)(24410.5,0.876)(24414.9,0.92)(24418.6,0.955)(24422.8,0.972)(24427.2,0.99)(24431.6,1.04)(24435.2,1.09)(24437.8,1.105)(24440,1.102)};
\addplot[spear] coordinates {(24333,0)(24335.6,0.06)(24338.2,0.094)(24340,0.11)(24342.6,0.147)(24345.3,0.214)(24347.9,0.307)(24350.6,0.428)(24353.2,0.548)(24355.9,0.682)(24358.5,0.802)(24361.1,0.895)(24363.8,0.925)(24366.4,0.925)(24370,0.902)(24373.5,0.875)(24377,0.889)(24380.5,0.929)(24384.1,0.982)(24388.5,1.042)(24391.5,1.058)(24394.6,1.036)(24398.1,0.976)(24401.7,0.902)(24404.3,0.866)(24407,0.855)(24410.5,0.875)(24414.9,0.922)(24418.6,0.956)(24422.8,0.973)(24427.2,0.996)(24431.6,1.049)(24435.2,1.102)(24437.8,1.116)(24440,1.112)};
\addplot[vdash] coordinates {(24340,0)(24340,1.2)};
\addplot[vdash] coordinates {(24418.6,0)(24418.6,1.2)};
\legend{Pd BIOXAS Exp.}
\end{axis}
\begin{axis}[resp, at={(1112\px,-1309\px)}, width=835\px, height=229\px, xmin=24324.8, xmax=24440,
  xtick={24340,24360,24380,24400,24420,24440}, xticklabels={24340,24360,24380,24400,24420,24440}]
\addplot[l2] coordinates {(24350,25)(24352.3,9.2)(24353.7,6.8)(24355,5.2)(24357.2,2.4)(24358.5,1.9)(24360.7,3.8)(24362,4.3)(24363.8,3.0)(24366,0.2)(24367.8,-0.9)(24369.5,-2.0)(24371.3,-3.7)(24372.2,-4.1)(24374.4,-2.0)(24377,0.6)(24379.6,1.5)(24381.4,1.4)(24384,0.6)(24386.7,-0.1)(24388.9,-0.4)(24391.5,0.1)(24394.2,1.8)(24396.8,2.9)(24398.6,2.5)(24400.8,0.1)(24403.4,-4.1)(24405.6,-7.4)(24407,-8.1)(24408.3,-7.8)(24411.4,-5.9)(24414.9,-3.3)(24418.6,-1.2)};
\addplot[cosl] coordinates {(24350,25)(24352.3,9.2)(24353.7,6.8)(24355,5.2)(24357.2,2.5)(24358.5,1.8)(24360.7,3.5)(24362,3.9)(24363.8,2.7)(24366,0.1)(24367.8,-0.9)(24369.5,-2.0)(24371.3,-3.7)(24372.2,-4.1)(24374.4,-2.0)(24377,0.6)(24379.6,1.5)(24381.4,1.4)(24384,0.6)(24386.7,-0.1)(24388.9,-0.4)(24391.5,0.1)(24394.2,1.8)(24396.8,2.9)(24398.6,2.5)(24400.8,0.1)(24403.4,-4.1)(24405.6,-7.3)(24407,-8.0)(24408.3,-7.7)(24411.4,-5.8)(24414.9,-3.3)(24418.6,-1.2)};
\addplot[pear] coordinates {(24351,25)(24353.5,8.5)(24355.4,4.8)(24358.5,2.7)(24361.6,0.6)(24364.2,-1.4)(24366.4,-2.8)(24369.5,-3.9)(24371.7,-4.5)(24373.5,-3.3)(24376.6,-0.1)(24379.6,1.4)(24383.2,0.8)(24385.8,-0.9)(24388,-2.4)(24389.8,-2.6)(24392.5,-1.6)(24395.2,0.6)(24397.7,2.0)(24399.9,1.6)(24401.7,-0.1)(24403.9,-3.1)(24406.5,-5.8)(24408.3,-6.7)(24409.6,-6.2)(24412.3,-4.7)(24414.9,-2.8)(24418.6,-1.6)};
\addplot[spear] coordinates {(24350,25)(24352.6,9.2)(24355,3.9)(24357.2,2.0)(24358.9,2.2)(24360.7,2.5)(24362.9,1.2)(24364.7,-0.3)(24366.9,-1.8)(24369.1,-2.6)(24371.3,-3.9)(24372.2,-4.1)(24374.4,-2.0)(24377,0.6)(24379.6,1.6)(24381.8,1.4)(24384.4,0.1)(24386.7,-0.9)(24388.9,-1.4)(24391.1,-0.9)(24393.8,0.6)(24396.4,2.0)(24398.1,2.0)(24400.4,0.3)(24403,-3.3)(24405.6,-6.2)(24407.9,-7.1)(24409.2,-6.7)(24411.8,-5.2)(24414.9,-3.1)(24418.6,-1.4)};
\addplot[vdash] coordinates {(24324.8,0)(24440,0)};
\addplot[vdash] coordinates {(24340,-10)(24340,9)};
\addplot[vdash] coordinates {(24418.6,-10)(24418.6,9)};
\end{axis}
%%%%%%%%%%%%%%%%%%%% PANEL 6 : Pd P65
\begin{axis}[mainp, legs, at={(2128\px,-851\px)}, width=834\px, height=457\px, xmin=24324.8, xmax=24440]
\addplot[expl] coordinates {(24324.9,0.02)(24329.8,0.029)(24333.3,0.037)(24336.9,0.051)(24340,0.064)(24343.1,0.087)(24345.8,0.134)(24348.4,0.227)(24351.1,0.361)(24353.8,0.494)(24356.4,0.615)(24359.1,0.748)(24361.8,0.882)(24364.4,0.955)(24367.1,0.969)(24369.8,0.965)(24372.4,0.922)(24375.1,0.889)(24377.8,0.885)(24380.4,0.895)(24384,0.962)(24387.6,1.036)(24390.2,1.096)(24392,1.105)(24394.7,1.069)(24398.2,0.982)(24400.9,0.915)(24403.6,0.889)(24406.2,0.902)(24409.8,0.929)(24414.2,0.96)(24420.4,0.976)(24424.9,1.022)(24428.4,1.069)(24431.1,1.08)(24434.7,1.049)(24440.6,0.99)};
\addplot[l2] coordinates {(24333.3,0)(24336,0.082)(24340,0.108)(24343.1,0.148)(24345.8,0.216)(24348.4,0.322)(24351.1,0.442)(24353.8,0.549)(24356.4,0.655)(24359.1,0.775)(24361.8,0.895)(24364.4,0.946)(24367.1,0.948)(24369.8,0.927)(24373.3,0.889)(24376.9,0.902)(24380.4,0.935)(24384,0.989)(24387.6,1.042)(24391.1,1.08)(24393.8,1.07)(24397.3,0.996)(24400.9,0.909)(24403.6,0.869)(24406.2,0.855)(24409.8,0.875)(24414.2,0.922)(24420.4,0.978)(24424.9,0.996)(24428.4,1.042)(24432,1.103)(24435.6,1.137)(24438.2,1.134)(24440.6,1.117)};
\addplot[cosl] coordinates {(24333.3,0)(24336,0.08)(24340,0.107)(24343.1,0.147)(24345.8,0.214)(24348.4,0.321)(24351.1,0.441)(24353.8,0.548)(24356.4,0.655)(24359.1,0.775)(24361.8,0.895)(24364.4,0.949)(24367.1,0.951)(24369.8,0.929)(24373.3,0.889)(24376.9,0.902)(24380.4,0.935)(24384,0.989)(24387.6,1.042)(24391.1,1.08)(24393.8,1.069)(24397.3,0.996)(24400.9,0.909)(24403.6,0.869)(24406.2,0.855)(24409.8,0.875)(24414.2,0.922)(24420.4,0.978)(24424.9,0.996)(24428.4,1.042)(24432,1.102)(24435.6,1.136)(24438.2,1.133)(24440.6,1.116)};
\addplot[pear] coordinates {(24333.3,0)(24336,0.09)(24340,0.115)(24343.1,0.158)(24345.8,0.228)(24348.4,0.332)(24351.1,0.45)(24353.8,0.555)(24356.4,0.66)(24359.1,0.775)(24361.8,0.885)(24364.4,0.925)(24367.1,0.93)(24369.8,0.915)(24373.3,0.885)(24376.9,0.9)(24380.4,0.932)(24384,0.982)(24387.6,1.035)(24391.1,1.07)(24393.8,1.062)(24397.3,0.99)(24400.9,0.91)(24403.6,0.872)(24406.2,0.858)(24409.8,0.878)(24414.2,0.922)(24420.4,0.975)(24424.9,0.995)(24428.4,1.04)(24432,1.1)(24435.6,1.13)(24438.2,1.128)(24440.6,1.11)};
\addplot[spear] coordinates {(24333.3,0)(24336,0.085)(24340,0.11)(24343.1,0.15)(24345.8,0.22)(24348.4,0.325)(24351.1,0.445)(24353.8,0.55)(24356.4,0.655)(24359.1,0.775)(24361.8,0.895)(24364.4,0.942)(24367.1,0.945)(24369.8,0.925)(24373.3,0.889)(24376.9,0.902)(24380.4,0.935)(24384,0.989)(24387.6,1.042)(24391.1,1.085)(24393.8,1.072)(24397.3,0.996)(24400.9,0.909)(24403.6,0.869)(24406.2,0.855)(24409.8,0.875)(24414.2,0.922)(24420.4,0.978)(24424.9,0.996)(24428.4,1.042)(24432,1.105)(24435.6,1.14)(24438.2,1.137)(24440.6,1.118)};
\addplot[vdash] coordinates {(24340.2,0)(24340.2,1.2)};
\addplot[vdash] coordinates {(24420,0)(24420,1.2)};
\legend{Pd P65 Exp.}
\end{axis}
\begin{axis}[resp, at={(2128\px,-1308\px)}, width=834\px, height=230\px, xmin=24324.8, xmax=24440,
  xtick={24340,24360,24380,24400,24420,24440}, xticklabels={24340,24360,24380,24400,24420,24440}]
\addplot[l2] coordinates {(24349,25)(24350.9,9.2)(24352.9,5.6)(24354.7,4.6)(24356.9,3.2)(24358.7,2.0)(24360.4,1.7)(24362.7,-0.1)(24365.3,-1.8)(24368,-3.1)(24370.7,-5.0)(24371.6,-5.1)(24374.2,-2.4)(24376.9,1.4)(24379.6,3.5)(24381.3,3.7)(24383.6,3.1)(24386.2,1.0)(24389.3,-0.9)(24391.6,-1.8)(24394.2,-0.9)(24396,0.8)(24398.2,1.0)(24400.9,-0.3)(24404,-3.3)(24407.1,-5.9)(24408.9,-6.5)(24411.6,-5.5)(24414.7,-3.3)(24417.8,-0.9)(24420,0.4)};
\addplot[cosl] coordinates {(24349,25)(24350.9,9.2)(24352.9,5.8)(24354.7,5.0)(24356.9,3.9)(24358.7,3.0)(24360.4,2.0)(24362.7,0.3)(24365.3,-1.7)(24368,-3.0)(24370.7,-5.0)(24371.6,-5.1)(24374.2,-2.4)(24376.9,1.4)(24379.6,3.5)(24381.3,3.7)(24383.6,3.1)(24386.2,1.0)(24389.3,-0.9)(24391.6,-1.8)(24394.2,-0.9)(24396,0.8)(24398.2,1.0)(24400.9,-0.3)(24404,-3.4)(24407.1,-6.1)(24408.9,-6.8)(24411.6,-5.7)(24414.7,-3.4)(24417.8,-0.9)(24420,0.4)};
\addplot[pear] coordinates {(24349,25)(24350.9,9.2)(24352.9,6.0)(24354.7,5.2)(24356.9,3.8)(24358.7,2.8)(24360.4,1.8)(24362.7,-0.5)(24365.3,-2.8)(24368,-3.5)(24370.7,-5.4)(24371.6,-5.5)(24374.2,-2.6)(24376.9,1.3)(24379.6,3.4)(24381.3,3.6)(24383.6,3.0)(24386.2,0.6)(24389.3,-1.8)(24391.6,-2.8)(24394.2,-1.6)(24396,0.5)(24398.2,0.9)(24400.9,-0.3)(24404,-3.2)(24407.1,-5.4)(24408.9,-5.8)(24411.6,-5.0)(24414.7,-3.1)(24417.8,-0.9)(24420,0.4)};
\addplot[spear] coordinates {(24349,25)(24350.9,9.2)(24352.9,5.6)(24354.7,4.8)(24356.9,3.5)(24358.7,2.4)(24360.4,1.6)(24362.7,-0.3)(24365.3,-1.8)(24368,-3.1)(24370.7,-5.0)(24371.6,-5.1)(24374.2,-2.4)(24376.9,1.4)(24379.6,3.5)(24381.3,3.7)(24383.6,3.1)(24386.2,1.0)(24389.3,-0.9)(24391.6,-1.8)(24394.2,-0.9)(24396,0.8)(24398.2,1.0)(24400.9,-0.3)(24404,-3.3)(24407.1,-5.8)(24408.9,-6.4)(24411.6,-5.4)(24414.7,-3.3)(24417.8,-0.9)(24420,0.4)};
\addplot[vdash] coordinates {(24324.8,0)(24440,0)};
\addplot[vdash] coordinates {(24340.2,-10)(24340.2,9)};
\addplot[vdash] coordinates {(24420,-10)(24420,9)};
\end{axis}
\end{tikzpicture}
\end{document}
